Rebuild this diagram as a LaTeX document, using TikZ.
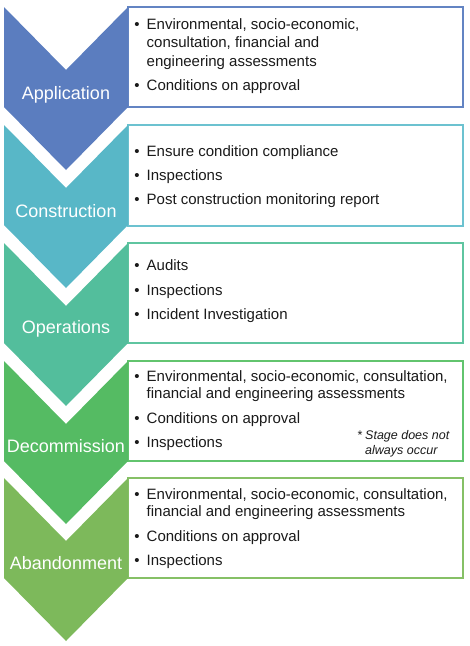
\documentclass[tikz,border=0pt]{standalone}
\usepackage{fontspec}
\setmainfont{Liberation Sans}
\definecolor{appcol}{HTML}{5B7DBF}
\definecolor{concol}{HTML}{58B7C7}
\definecolor{opcol}{HTML}{53BE9C}
\definecolor{deccol}{HTML}{55BB63}
\definecolor{abacol}{HTML}{7DB95B}
\definecolor{appline}{HTML}{6384C3}
\definecolor{conline}{HTML}{6CC2D0}
\definecolor{opline}{HTML}{5FC5A0}
\definecolor{decline}{HTML}{62C46E}
\definecolor{abaline}{HTML}{86C066}
\definecolor{txt}{HTML}{1A1A1A}
\begin{document}
\begin{tikzpicture}[x=1pt,y=-1pt,
  infobox/.style={line width=1.4pt},
  stagelabel/.style={text=white,font=\fontsize{18}{21}\selectfont,inner sep=0pt},
  item/.style={anchor=base west,text=txt,font=\fontsize{15}{18}\selectfont,inner sep=0pt},
  dot/.style={anchor=base,text=txt,font=\fontsize{15}{18}\selectfont,inner sep=0pt},
  note/.style={anchor=base west,text=txt,font=\fontsize{12.5}{15}\selectfont\itshape,inner sep=0pt}]
\useasboundingbox (0,0) rectangle (470,646);

% information boxes (drawn first, the chevrons overlap their left edges)
\draw[infobox,appline] (128,7) rectangle (463,107);
\draw[infobox,conline] (128,125) rectangle (463,226);
\draw[infobox,opline]  (128,243) rectangle (463,343);
\draw[infobox,decline] (128,361) rectangle (463,461);
\draw[infobox,abaline] (128,478) rectangle (463,578);

% chevrons
\fill[appcol] (4,7)   -- ++(62,63) -- ++(62,-63) -- ++(0,100) -- ++(-62,63) -- ++(-62,-63) -- cycle;
\fill[concol] (4,125) -- ++(62,63) -- ++(62,-63) -- ++(0,100) -- ++(-62,63) -- ++(-62,-63) -- cycle;
\fill[opcol]  (4,243) -- ++(62,63) -- ++(62,-63) -- ++(0,100) -- ++(-62,63) -- ++(-62,-63) -- cycle;
\fill[deccol] (4,361) -- ++(62,63) -- ++(62,-63) -- ++(0,100) -- ++(-62,63) -- ++(-62,-63) -- cycle;
\fill[abacol] (4,478) -- ++(62,63) -- ++(62,-63) -- ++(0,100) -- ++(-62,63) -- ++(-62,-63) -- cycle;

% stage names
\node[stagelabel] (lapp) at (66,95) {Application};
\node[stagelabel] (lcon) at (66,211) {Construction};
\node[stagelabel] (lop)  at (66,329) {Operations};
\node[stagelabel] (ldec) at (66,446) {Decommission};
\node[stagelabel] (laba) at (66,563) {Abandonment};

% Application
\node[dot]  (a1b) at (137,29) {\textbullet};
\node[item] (a1)  at (146.5,29) {Environmental, socio-economic,};
\node[item] (a1c) at (146.5,47.5) {consultation, financial and};
\node[item] (a1d) at (146.5,66) {engineering assessments};
\node[dot]  (a2b) at (137,90.5) {\textbullet};
\node[item] (a2)  at (146.5,90.5) {Conditions on approval};

% Construction
\node[dot]  (c1b) at (137,156) {\textbullet};
\node[item] (c1)  at (146.5,156) {Ensure condition compliance};
\node[dot]  (c2b) at (137,180) {\textbullet};
\node[item] (c2)  at (146.5,180) {Inspections};
\node[dot]  (c3b) at (137,204) {\textbullet};
\node[item] (c3)  at (146.5,204) {Post construction monitoring report};

% Operations
\node[dot]  (o1b) at (137,270.5) {\textbullet};
\node[item] (o1)  at (146.5,270.5) {Audits};
\node[dot]  (o2b) at (137,295) {\textbullet};
\node[item] (o2)  at (146.5,295) {Inspections};
\node[dot]  (o3b) at (137,319) {\textbullet};
\node[item] (o3)  at (146.5,319) {Incident Investigation};

% Decommission
\node[dot]  (d1b) at (137,381) {\textbullet};
\node[item] (d1)  at (146.5,381) {Environmental, socio-economic, consultation,};
\node[item] (d1c) at (146.5,398.5) {financial and engineering assessments};
\node[dot]  (d2b) at (137,423) {\textbullet};
\node[item] (d2)  at (146.5,423) {Conditions on approval};
\node[dot]  (d3b) at (137,447.5) {\textbullet};
\node[item] (d3)  at (146.5,447.5) {Inspections};
\node[note] (n0)  at (357,439) {*};
\node[note] (n1)  at (365,439) {Stage does not};
\node[note] (n2)  at (365,454) {always occur};

% Abandonment
\node[dot]  (b1b) at (137,499) {\textbullet};
\node[item] (b1)  at (146.5,499) {Environmental, socio-economic, consultation,};
\node[item] (b1c) at (146.5,516.5) {financial and engineering assessments};
\node[dot]  (b2b) at (137,541.5) {\textbullet};
\node[item] (b2)  at (146.5,541.5) {Conditions on approval};
\node[dot]  (b3b) at (137,565.5) {\textbullet};
\node[item] (b3)  at (146.5,565.5) {Inspections};
\end{tikzpicture}
\end{document}
